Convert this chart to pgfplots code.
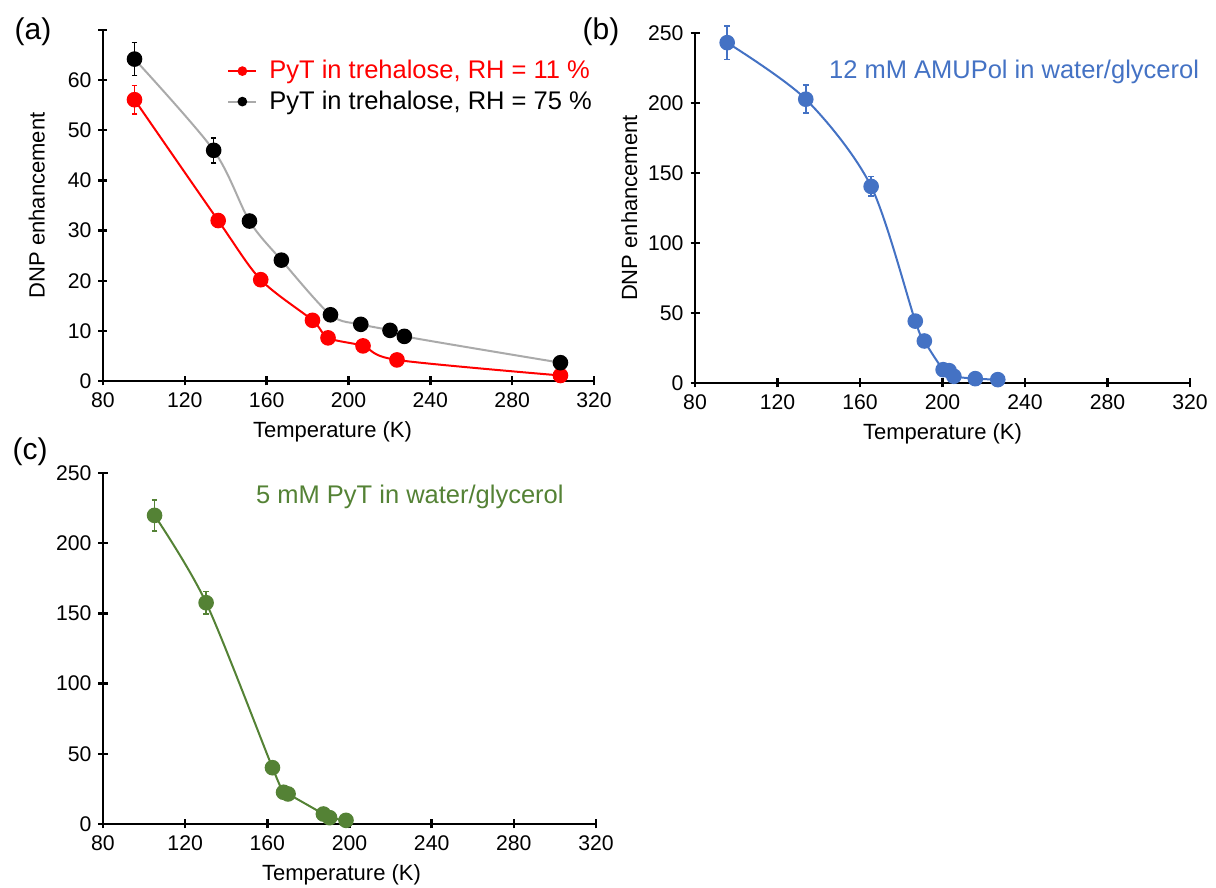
\documentclass[border=0pt]{standalone}
\usepackage{pgfplots}
\pgfplotsset{compat=1.18}
\usepackage{fontspec}
\setmainfont{Liberation Sans}
\definecolor{myred}{RGB}{255,0,0}
\definecolor{mygray}{RGB}{170,170,170}
\definecolor{myblue}{RGB}{68,114,196}
\definecolor{mygreen}{RGB}{84,130,53}
\pgfplotsset{
 panel/.style={
  scale only axis, axis x line*=bottom, axis y line*=left,
  axis line style={line width=1.2pt, black},
  xmin=80, xmax=320, xtick={80,120,...,320},
  tick align=center, major tick length=4.5pt,
  every tick/.style={line width=1.2pt, black},
  tick label style={font=\fontsize{10.6}{12}\selectfont},
  label style={font=\fontsize{11}{13}\selectfont},
  /pgf/number format/assume math mode=true,
  xlabel={Temperature (K)},
  anchor=south west,
  clip=false,
 },
 ser/.style={line width=1pt, smooth, tension=0.5, mark=*, mark size=3.4pt,
  error bars/.cd, y dir=both, y explicit,
  error bar style={line width=0.8pt, #1},
  error mark options={rotate=90, mark size=1.4pt, line width=0.8pt, #1}},
}
\begin{document}
\begin{tikzpicture}
\path[use as bounding box] (0,0) rectangle (608pt,444pt);
\node[font=\fontsize{15}{17}\selectfont] at (16.5pt,428pt) {(a)};
\node[font=\fontsize{15}{17}\selectfont] at (300.5pt,428pt) {(b)};
\node[font=\fontsize{15}{17}\selectfont] at (15pt,218pt) {(c)};

% Panel (a)
\begin{axis}[panel, at={(51.5pt,253.5pt)}, width=245.5pt, height=175.5pt,
  ymin=0, ymax=70, ytick={0,10,...,70}, yticklabels={0,10,20,30,40,50,60,{}},
  ylabel={DNP enhancement},
  ylabel style={at={(axis description cs:-0.135,0.5)}, anchor=center},
  xlabel style={xshift=-8pt},
  legend style={at={(0.2525,0.926)}, anchor=north west, draw=none, fill=none,
    inner sep=0pt, font=\fontsize{12.75}{14.5}\selectfont, row sep=0.5pt},
  legend image code/.code={\draw[mark repeat=2, mark phase=2, #1, mark size=1.9pt]
     plot coordinates {(0pt,0pt) (7pt,0pt) (14pt,0pt)};},
  legend cell align=left]
\addplot[myred, mark options={solid, fill=myred, draw=myred}, ser=myred]
 table[x=x, y=y, y error=e] {
x y e
95.4 56.1 2.8
136.3 32.0 1.2
157.1 20.2 0.6
182.4 12.1 0.5
190.0 8.6 0.5
207.1 7.0 0.5
223.7 4.2 0.5
303.6 1.1 0.3
};
\addlegendentry{\hspace{4pt}\textcolor{myred}{PyT in trehalose, RH = 11 \%}}
\addplot[mygray, mark options={solid, fill=black, draw=black}, ser=black]
 table[x=x, y=y, y error=e] {
x y e
95.4 64.2 3.3
134.1 46.0 2.5
151.6 31.9 1.2
167.2 24.1 0.6
191.2 13.2 0.5
206.0 11.3 0.5
220.3 10.1 0.5
227.3 8.9 0.5
303.6 3.65 0.3
};
\addlegendentry{\hspace{4pt}PyT in trehalose, RH = 75 \%}
\end{axis}

% Panel (b)
\begin{axis}[panel, at={(347.5pt,252.5pt)}, width=247.5pt, height=175pt,
  ymin=0, ymax=250, ytick={0,50,...,250},
  ylabel={DNP enhancement},
  ylabel style={at={(axis description cs:-0.133,0.5)}, anchor=center}]
\addplot[myblue, mark options={solid, fill=myblue, draw=myblue}, ser=myblue]
 table[x=x, y=y, y error=e] {
x y e
95.6 243.1 12
133.7 202.7 10
165.4 140.4 7
186.8 44.2 2
191.2 30.0 1.5
200.3 9.5 1
203.2 8.8 1
205.5 4.8 1
215.9 3.1 1
226.8 2.4 1
};
\node[anchor=west, text=myblue, font=\fontsize{12.75}{14.5}\selectfont] at (axis cs:141.6,222) {12 mM AMUPol in water/glycerol};
\end{axis}

% Panel (c)
\begin{axis}[panel, at={(51.5pt,32pt)}, width=246.5pt, height=175.5pt,
  ymin=0, ymax=250, ytick={0,50,...,250}, xlabel style={xshift=-4pt}]
\addplot[mygreen, mark options={solid, fill=mygreen, draw=mygreen}, ser=mygreen]
 table[x=x, y=y, y error=e] {
x y e
105.1 219.8 11
130.2 157.6 8
162.5 40.1 2
167.9 22.6 1.5
170.1 21.4 1.5
187.3 7.1 1
190.3 4.5 1
198.3 2.6 1
};
\node[anchor=west, text=mygreen, font=\fontsize{12.75}{14.5}\selectfont] at (axis cs:151.1,232.7) {5 mM PyT in water/glycerol};
\end{axis}
\end{tikzpicture}
\end{document}
